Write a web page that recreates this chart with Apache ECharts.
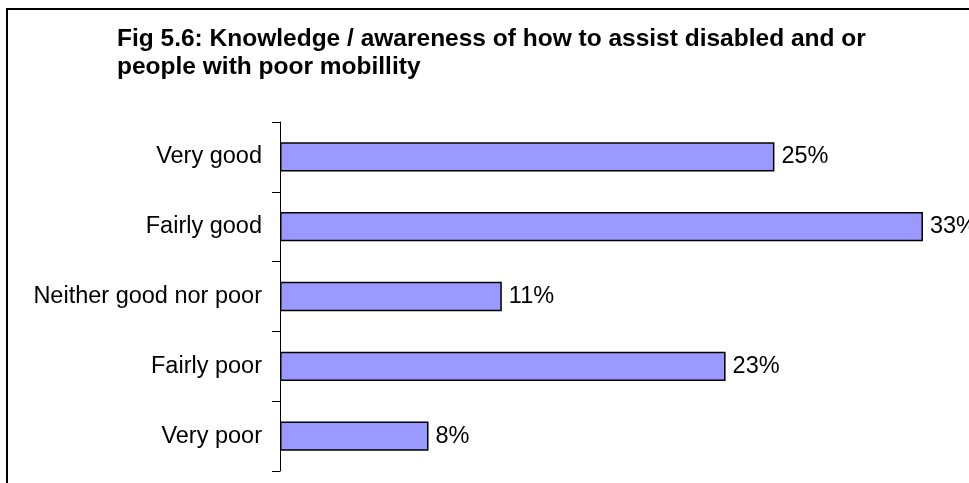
<!DOCTYPE html>
<html>
<head>
<meta charset="utf-8">
<script src="https://cdn.jsdelivr.net/npm/echarts@6/dist/echarts.min.js"></script>
<style>html,body{margin:0;padding:0;background:#fff}#c{width:969px;height:483px}</style>
</head>
<body>
<div id="c"></div>
<script>
var titleText = 'Fig 5.6: Knowledge / awareness of how to assist disabled and or\npeople with poor mobillity';
var categories = ['Very good', 'Fairly good', 'Neither good nor poor', 'Fairly poor', 'Very poor'];
var values = [25.3, 32.9, 11.35, 22.8, 7.6];

var chart = echarts.init(document.getElementById('c'), null, {renderer: 'canvas'});
chart.setOption({
  animation: false,
  backgroundColor: '#fff',
  textStyle: {fontFamily: '"Liberation Sans", Arial, sans-serif'},
  title: {
    text: titleText,
    left: 112,
    top: 20,
    textStyle: {fontSize: 24.5, fontWeight: 'bold', color: '#000', lineHeight: 28, fontFamily: '"Liberation Sans", Arial, sans-serif'}
  },
  graphic: [{
    type: 'rect',
    shape: {x: 7, y: 9, width: 1100, height: 600},
    style: {fill: 'none', stroke: '#000', lineWidth: 2},
    silent: true
  }],
  grid: {left: 280, top: 122, bottom: 12, right: 5},
  xAxis: {
    type: 'value', min: 0, max: 35, show: false
  },
  yAxis: {
    type: 'category',
    data: categories,
    inverse: true,
    axisLine: {show: true, lineStyle: {color: '#000', width: 1}},
    axisTick: {show: true, length: 8, lineStyle: {color: '#000'}},
    axisLabel: {color: '#000', fontSize: 23.5, margin: 18, fontFamily: '"Liberation Sans", Arial, sans-serif'}
  },
  series: [{
    type: 'bar',
    data: values,
    barCategoryGap: '58%',
    itemStyle: {color: '#9999FF', borderColor: '#000', borderWidth: 1.5},
    label: {
      show: true, position: 'right', distance: 7, color: '#000', fontSize: 23.5,
      fontFamily: '"Liberation Sans", Arial, sans-serif',
      formatter: function (p) { return Math.round(p.value) + '%'; }
    }
  }]
});
</script>
</body>
</html>
